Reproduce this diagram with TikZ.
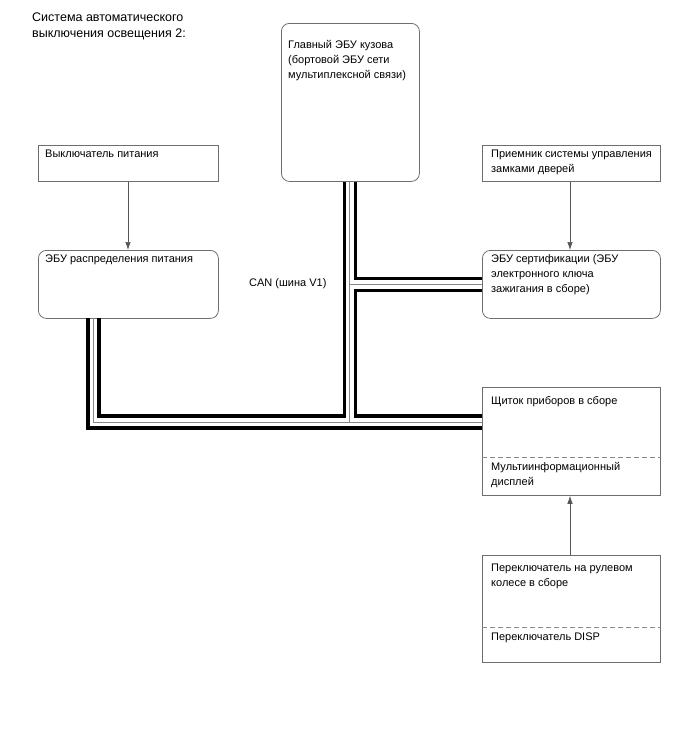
\documentclass[tikz,border=0pt]{standalone}
\usepackage{fontspec}
\setmainfont{Liberation Sans}
\usetikzlibrary{calc,arrows.meta}
\definecolor{boxgray}{HTML}{6E6E6E}
\definecolor{midgray}{HTML}{888888}
\definecolor{arrgray}{HTML}{555555}
\begin{document}
\begin{tikzpicture}[x=1pt,y=-1pt,
  box/.style={draw=boxgray, line width=0.8pt, inner sep=0pt, anchor=north west},
  rbox/.style={box, rounded corners=8pt},
  lbl/.style={anchor=north west, inner sep=0pt, align=left, font=\fontsize{11}{15}\selectfont},
  bus/.style={line width=3.5pt, black},
  mid/.style={line width=0.9pt, midgray},
  sep/.style={draw=midgray, line width=0.8pt, dash pattern=on 5pt off 3pt},
  arr/.style={-{Latex[length=8pt,width=5.5pt]}, line width=0.7pt, draw=arrgray, fill=arrgray}]
\useasboundingbox (0,0) rectangle (688,755);

% title
\node[lbl, font=\fontsize{12.5}{16}\selectfont] (title) at (32,13) {Система автоматического\\выключения освещения 2:};

% boxes
\node[box, minimum width=180pt, minimum height=36pt] (psw) at (38,145) {};
\node[lbl] (psw-t) at ($(psw.north west)+(7,4.5)$) {Выключатель питания};

\node[rbox, minimum width=180pt, minimum height=68pt] (pdecu) at (38,250) {};
\node[lbl] (pdecu-t) at ($(pdecu.north west)+(7,4.5)$) {ЭБУ распределения питания};

\node[rbox, minimum width=138pt, minimum height=158pt] (main) at (281,23) {};
\node[lbl] (main-t) at ($(main.north west)+(7,17.5)$) {Главный ЭБУ кузова\\(бортовой ЭБУ сети\\мультиплексной связи)};

\node[box, minimum width=178pt, minimum height=36pt] (recv) at (482,145) {};
\node[lbl] (recv-t) at ($(recv.north west)+(9,4.5)$) {Приемник системы управления\\замками дверей};

\node[rbox, minimum width=178pt, minimum height=68pt] (cert) at (482,250) {};
\node[lbl] (cert-t) at ($(cert.north west)+(9,4.5)$) {ЭБУ сертификации (ЭБУ\\электронного ключа\\зажигания в сборе)};

\node[box, minimum width=178pt, minimum height=108pt] (clus) at (482,387) {};
\coordinate (clus-dl) at ($(clus.north west)+(0,70)$);
\coordinate (clus-dr) at ($(clus.north east)+(0,70)$);
\draw[sep] (clus-dl) -- (clus-dr);
\node[lbl] (clus-t1) at ($(clus.north west)+(9,9)$) {Щиток приборов в сборе};
\node[lbl] (clus-t2) at ($(clus.north west)+(9,75)$) {Мультиинформационный\\дисплей};

\node[box, minimum width=178pt, minimum height=107pt] (steer) at (482,555) {};
\coordinate (steer-dl) at ($(steer.north west)+(0,72)$);
\coordinate (steer-dr) at ($(steer.north east)+(0,72)$);
\draw[sep] (steer-dl) -- (steer-dr);
\node[lbl] (steer-t1) at ($(steer.north west)+(9,9)$) {Переключатель на рулевом\\колесе в сборе};
\node[lbl] (steer-t2) at ($(steer.north west)+(9,77.5)$) {Переключатель DISP};

\node[lbl] (can) at (249,278.5) {CAN (шина V1)};

% arrows
\draw[arr] (psw.south -| 128,0) -- (pdecu.north -| 128,0);
\draw[arr] (recv.south -| 570,0) -- (cert.north -| 570,0);
\draw[arr] (steer.north -| 570,0) -- (clus.south -| 570,0);

% CAN bus
\coordinate (mL) at ($(main.south)+(-6,0)$);
\coordinate (mC) at ($(main.south)+(-0.5,0)$);
\coordinate (mR) at ($(main.south)+(5,0)$);
\coordinate (pL) at (88,318);
\coordinate (pC) at (93.5,318);
\coordinate (pR) at (99,318);
\coordinate (cT) at ($(cert.west)+(0,-6)$);
\coordinate (cC) at ($(cert.west)+(0,0)$);
\coordinate (cB) at ($(cert.west)+(0,6)$);
\coordinate (kT) at ($(clus.north west)+(0,29)$);
\coordinate (kC) at ($(clus.north west)+(0,35)$);
\coordinate (kB) at ($(clus.north west)+(0,41)$);

\draw[mid] (mC) -- (mC |- kC);
\draw[mid] (mC |- cC) -- (cC);
\draw[mid] (pC) -- (pC |- kC) -- (kC);

\draw[bus] (mL) -- (mL |- kT) -- (pR |- kT) -- (pR);
\draw[bus] (mR) -- (mR |- cT) -- (cT);
\draw[bus] (cB) -- (mR |- cB) -- (mR |- kT) -- (kT);
\draw[bus] (pL) -- (pL |- kB) -- (kB);
\end{tikzpicture}
\end{document}
